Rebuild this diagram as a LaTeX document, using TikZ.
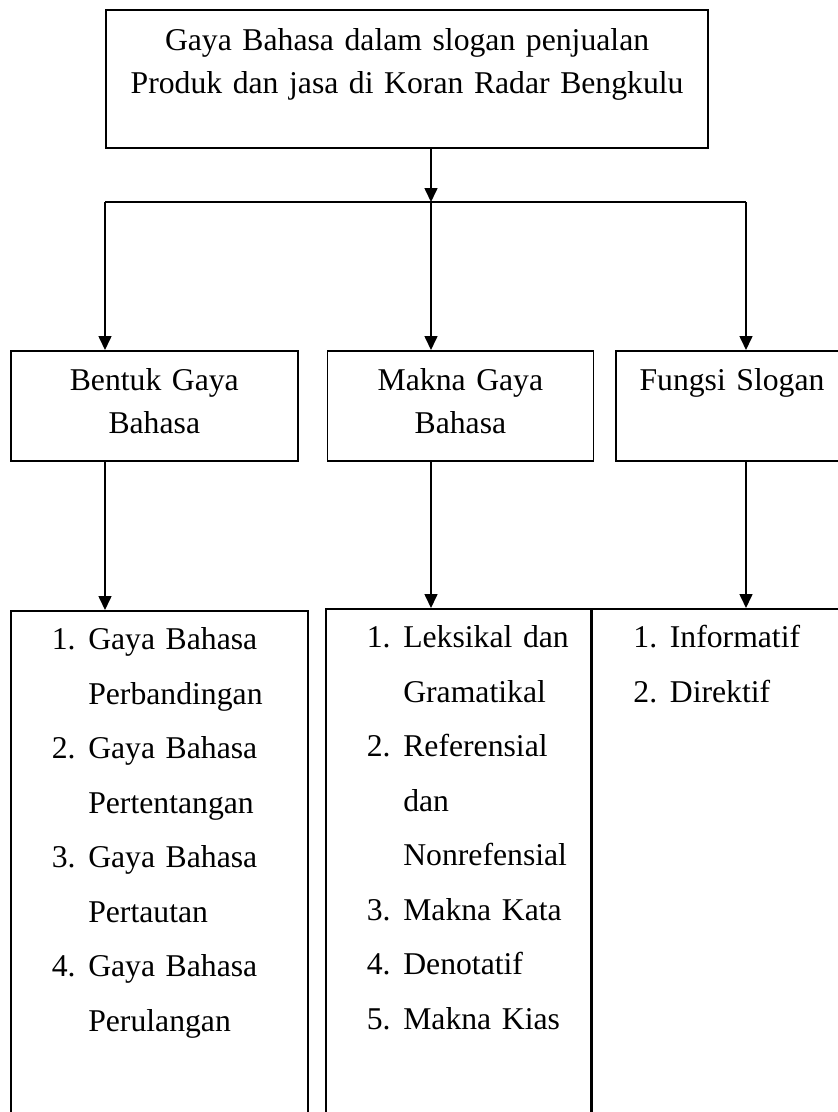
\documentclass[tikz,border=0pt]{standalone}
\usepackage{fontspec}
\setmainfont{Liberation Serif}
\usetikzlibrary{
  positioning,
  arrows.meta}
\tikzset{
  %% box : frame shared by all boxes
  box/.style={
    rectangle,
    draw=black,
    line width=1.6pt,
    inner sep=0pt,
    anchor=north west,
    font=\fontsize{31.7pt}{43pt}\selectfont
  },
  %% headbox : the title of the scheme
  headbox/.style={
    box,
    line width=2.2pt,
    text width=602pt,
    align=center,
    text height=40pt,
    text depth=98pt
  },
  %% catbox : one of the three aspects
  catbox/.style={
    box,
    align=center,
    text height=40pt,
    text depth=70pt
  },
  %% listbox : numbered list under an aspect
  listbox/.style={
    box,
    align=left,
    text height=39pt,
    text depth=490pt,
    font=\fontsize{31.7pt}{54.5pt}\selectfont
  },
  %% link : arrow from box to box
  link/.style={
    line width=1.6pt,
    -{Triangle[width=13pt, length=14pt]}
  }
}
%% one line of a list: left margin, number, text
\newcommand{\itm}[1]{\hspace*{41pt}\makebox[36.5pt][l]{#1}}

\begin{document}
\begin{tikzpicture}
  [x=1pt,
  y=-1pt]

  \path [use as bounding box, clip] (0,0) rectangle (838,1112);

  %% Title
  \node (head) [headbox] at (105,9) {%
    Gaya Bahasa dalam slogan penjualan\\
    Produk dan jasa di Koran Radar Bengkulu
  };

  %% Aspects
  \node (bentuk) [catbox, text width=287pt] at (10,350) {%
    Bentuk Gaya\\
    Bahasa
  };

  \node (makna) [catbox, text width=266pt, right=28pt of bentuk] {%
    Makna Gaya\\
    Bahasa
  };

  \node (fungsi) [catbox, text width=232pt, right=21pt of makna] {%
    Fungsi Slogan
  };

  %% Lists
  \node (bentuklist) [listbox, text width=297pt] at (10,610) {%
    \itm{1.}Gaya Bahasa\\
    \itm{}Perbandingan\\
    \itm{2.}Gaya Bahasa\\
    \itm{}Pertentangan\\
    \itm{3.}Gaya Bahasa\\
    \itm{}Pertautan\\
    \itm{4.}Gaya Bahasa\\
    \itm{}Perulangan
  };

  \node (maknalist) [listbox, text width=265pt] at (325,608) {%
    \itm{1.}Leksikal dan\\
    \itm{}Gramatikal\\
    \itm{2.}Referensial\\
    \itm{}dan\\
    \itm{}Nonrefensial\\
    \itm{3.}Makna Kata\\
    \itm{4.}Denotatif\\
    \itm{5.}Makna Kias
  };

  \node (fungsilist) [listbox, text width=254pt, right=0pt of maknalist] {%
    \itm{1.}Informatif\\
    \itm{2.}Direktif
  };

  %% Connections
  \coordinate (fork) at (431,202);
  \coordinate (forkleft) at (105,202);
  \coordinate (forkright) at (746,202);

  \draw [link] (head.south -| fork) -- (fork);
  \draw [line width=1.6pt] (forkleft) -- (forkright);
  \draw [link] (forkleft) -- (forkleft |- bentuk.north);
  \draw [link] (fork) -- (fork |- makna.north);
  \draw [link] (forkright) -- (forkright |- fungsi.north);

  \draw [link] (forkleft |- bentuk.south) -- (forkleft |- bentuklist.north);
  \draw [link] (fork |- makna.south) -- (fork |- maknalist.north);
  \draw [link] (forkright |- fungsi.south) -- (forkright |- fungsilist.north);

\end{tikzpicture}
\end{document}
